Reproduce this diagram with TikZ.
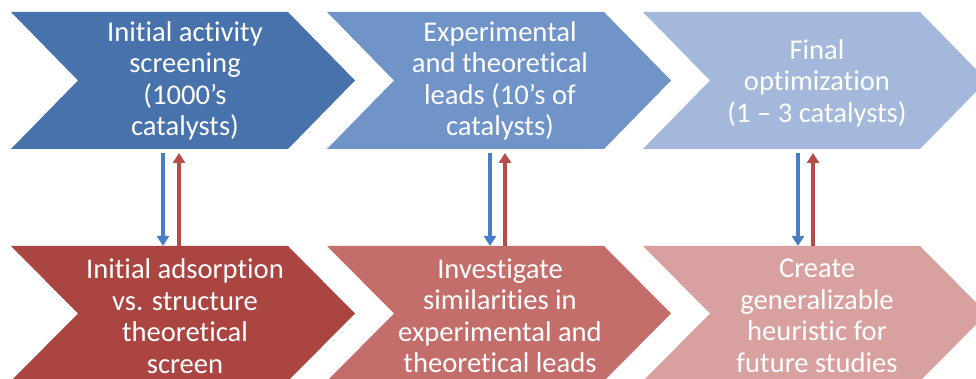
\documentclass[tikz,border=0pt]{standalone}
\usepackage{fontspec}
\setmainfont[Ligatures=NoCommon]{Carlito}
\usetikzlibrary{arrows.meta}
\definecolor{topA}{RGB}{72,114,172}
\definecolor{topB}{RGB}{112,147,200}
\definecolor{topC}{RGB}{163,184,218}
\definecolor{botA}{RGB}{171,69,66}
\definecolor{botB}{RGB}{196,110,108}
\definecolor{botC}{RGB}{217,160,160}
\definecolor{arrblue}{RGB}{74,126,196}
\definecolor{arrred}{RGB}{184,74,71}
\tikzset{
  lbl/.style={text=white,align=center,font=\fontsize{28.6}{31.5}\selectfont,inner sep=0pt},
  downarr/.style={draw=arrblue,line width=3.2pt,-{Triangle[width=12pt,length=10pt]}},
  uparr/.style={draw=arrred,line width=3.2pt,-{Triangle[width=12pt,length=10pt]}},
}
\newcommand{\chev}[5]{% left, top, bottom, color, depth
  \fill[#4] (#1,#2) -- (#1+277,#2) -- (#1+277+#5,{(#2+#3)/2}) -- (#1+277,#3) -- (#1,#3) -- (#1+#5,{(#2+#3)/2}) -- cycle;}
\begin{document}
\begin{tikzpicture}[x=1pt,y=1pt]
\useasboundingbox (0,0) rectangle (976,379);
\clip (0,0) rectangle (976,379);
\fill[white] (0,0) rectangle (976,379);
% top row (y measured from bottom: 379-ypx)
\chev{11}{367}{230}{topA}{67}
\chev{327}{367}{230}{topB}{67}
\chev{643}{367}{230}{topC}{67}
% bottom row
\chev{11}{133}{-2}{botA}{67}
\chev{327}{133}{-2}{botB}{67}
\chev{643}{133}{-2}{botC}{67}
% labels
\node[lbl] (t1) at (185,298) {Initial activity\\screening\\(1000’s\\catalysts)};
\node[lbl] (t2) at (500,298) {Experimental\\and theoretical\\leads (10’s of\\catalysts)};
\node[lbl] (t3) at (817,296) {Final\\optimization\\(1 – 3 catalysts)};
\node[lbl] (b1) at (185,63) {Initial adsorption\\vs. structure\\theoretical\\screen};
\node[lbl] (b2) at (500,63) {Investigate\\similarities in\\experimental and\\theoretical leads};
\node[lbl] (b3) at (817,63) {Create\\generalizable\\heuristic for\\future studies};
% connector endpoints
\coordinate (t1d) at (163,226); \coordinate (b1d) at (163,133);
\coordinate (b1u) at (179,133); \coordinate (t1u) at (179,226);
\coordinate (t2d) at (490,226); \coordinate (b2d) at (490,133);
\coordinate (b2u) at (505,133); \coordinate (t2u) at (505,226);
\coordinate (t3d) at (798,226); \coordinate (b3d) at (798,133);
\coordinate (b3u) at (813,133); \coordinate (t3u) at (813,226);
\draw[downarr] (t1d) -- (b1d);
\draw[uparr] (b1u) -- (t1u);
\draw[downarr] (t2d) -- (b2d);
\draw[uparr] (b2u) -- (t2u);
\draw[downarr] (t3d) -- (b3d);
\draw[uparr] (b3u) -- (t3u);
\end{tikzpicture}
\end{document}
